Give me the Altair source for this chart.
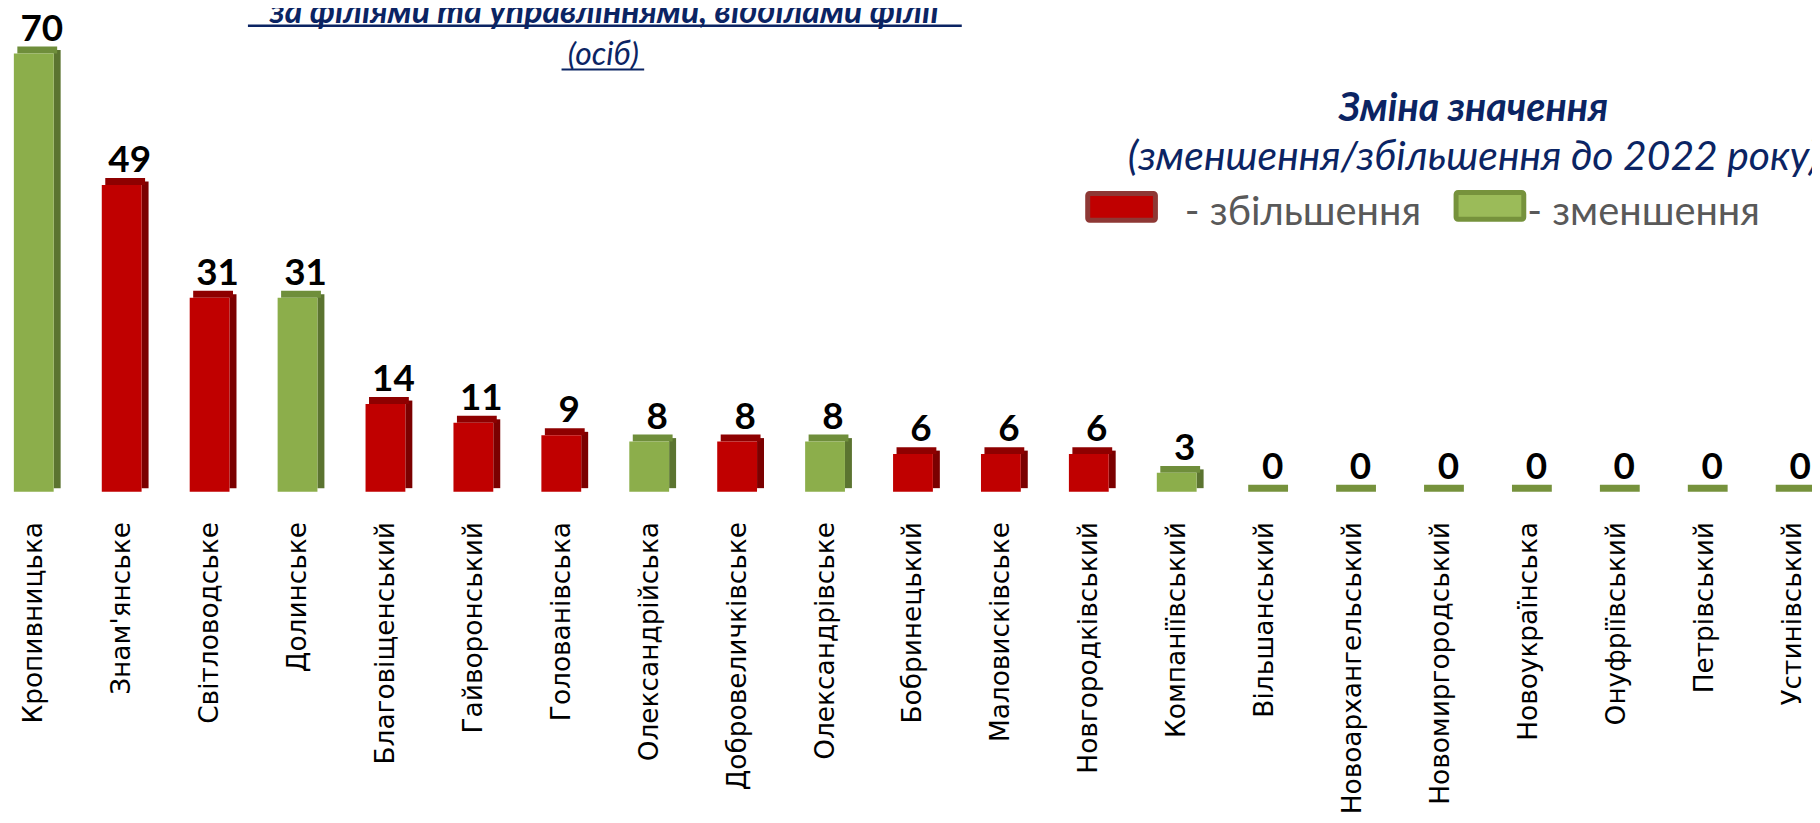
import altair as alt
import pandas as pd
import json

categories = ["Кропивницька", "Знам'янське", "Світловодське", "Долинське",
              "Благовіщенський", "Гайворонський", "Голованівська", "Олександрійська",
              "Добровеличківське", "Олександрівське", "Бобринецький", "Маловисківське",
              "Новгородківський", "Компаніївський", "Вільшанський", "Новоархангельський",
              "Новомиргородський", "Новоукраїнська", "Онуфріївський", "Петрівський",
              "Устинівський"]
values = [70, 49, 31, 31, 14, 11, 9, 8, 8, 8, 6, 6, 6, 3, 0, 0, 0, 0, 0, 0, 0]
change = ["зменшення", "збільшення", "збільшення", "зменшення", "збільшення",
          "збільшення", "збільшення", "зменшення", "збільшення", "зменшення",
          "збільшення", "збільшення", "збільшення", "зменшення",
          "без змін", "без змін", "без змін", "без змін", "без змін", "без змін", "без змін"]

title_lines = ["за філіями та управліннями, відділами філії", "(осіб)"]
legend_title = ["Зміна значення", "(зменшення/збільшення до 2022 року)"]
legend_labels = ["- збільшення", "- зменшення"]

df = pd.DataFrame({"i": list(range(len(categories))), "cat": categories, "v": values,
                   "t": change, "z": [0] * len(categories)})

types = ["збільшення", "зменшення", "без змін"]
front_scale = alt.Scale(domain=types, range=["#C00000", "#8CAE4B", "#8CAE4B"])
top_scale = alt.Scale(domain=types, range=["#8E0000", "#6F8E3B", "#76923C"])
side_scale = alt.Scale(domain=types, range=["#7B0000", "#5B7430", "#76923C"])

label_expr = "[" + ",".join(json.dumps(c, ensure_ascii=False) for c in categories) + "][datum.value]"

base = alt.Chart(df).encode(
    x=alt.X("i:Q", title=None,
            scale=alt.Scale(domain=[-0.2365, 20.169], nice=False, zero=False),
            axis=alt.Axis(values=list(range(len(categories))), labelExpr=label_expr,
                          labelAngle=-90, labelFont="DejaVu Sans", labelFontSize=26.5,
                          labelColor="black", domain=False, ticks=False, grid=False,
                          labelPadding=30, labelOverlap=False, labelLimit=0,
                          labelAlign="right", labelBaseline="middle")),
    y=alt.Y("v:Q", scale=alt.Scale(domain=[0, 77], nice=False), axis=None),
)

side = base.mark_rule(strokeWidth=7, xOffset=23.5, yOffset=-3.5, y2Offset=-3.5,
                      strokeCap="butt").encode(
    y2=alt.Y2("z"),
    stroke=alt.Stroke("t:N", scale=side_scale, legend=None),
).transform_filter("datum.v > 0")

top = base.mark_bar(width=40, xOffset=3.5, yOffset=-7).encode(
    y2=alt.Y2("v"),
    fill=alt.Fill("t:N", scale=top_scale, legend=None),
)

front = base.mark_bar(width=40).encode(
    y2=alt.Y2("z"),
    color=alt.Color("t:N", scale=front_scale, legend=None),
).transform_filter("datum.v > 0")

labels = base.mark_text(font="Lato", fontSize=37, fontWeight="bold", dx=8, dy=-13,
                        baseline="alphabetic", color="black").encode(text="v:Q")

NAVY = "#0B2463"

def txt(s, x, y, size, weight="normal", style="normal", color=NAVY, align="center", font="Lato"):
    return alt.Chart(pd.DataFrame({"s": [s]})).mark_text(
        font=font, fontSize=size, fontWeight=weight, fontStyle=style, color=color,
        align=align, baseline="alphabetic").encode(
        text="s:N", x=alt.value(x), y=alt.value(y))

def rule(x1, x2, y, w=2.5, color=NAVY):
    return alt.Chart(pd.DataFrame({"a": [0]})).mark_rule(color=color, strokeWidth=w).encode(
        x=alt.value(x1), x2=alt.value(x2), y=alt.value(y))

def swatch(x1, x2, y1, y2, fill, stroke):
    return alt.Chart(pd.DataFrame({"a": [0]})).mark_rect(
        fill=fill, stroke=stroke, strokeWidth=5, cornerRadius=2).encode(
        x=alt.value(x1), x2=alt.value(x2), y=alt.value(y1), y2=alt.value(y2))

title1 = txt(title_lines[0], 599, 13, 34, weight="bold", style="italic")
u1 = rule(241, 958, 16)
title2 = txt(title_lines[1], 598, 55, 32, style="italic")
u2 = rule(556, 639, 60, w=2)

lt1 = txt(legend_title[0], 1472, 112, 39.5, weight="bold", style="italic")
lt2 = txt(legend_title[1], 1472, 161, 41, style="italic")
sw1 = swatch(1084.5, 1152.5, 184.5, 211.5, "#C00000", "#8E3835")
sw2 = swatch(1454.5, 1522.5, 183.5, 210.5, "#9BBB59", "#76923C")
ll1 = txt(legend_labels[0], 1182, 216, 40, color="#595959", align="left")
ll2 = txt(legend_labels[1], 1526, 216, 40, color="#595959", align="left")

chart = alt.layer(
    side, top, front, labels,
    title1, u1, title2, u2, lt1, lt2, sw1, sw2, ll1, ll2
).properties(
    width=1812, height=484,
    autosize=alt.AutoSizeParams(type="none"),
    padding={"left": 0, "top": 0, "right": 0, "bottom": 323},
    background="white",
).configure_view(stroke=None)

chart.save("out.html", embed_options={"renderer": "svg", "actions": False})
